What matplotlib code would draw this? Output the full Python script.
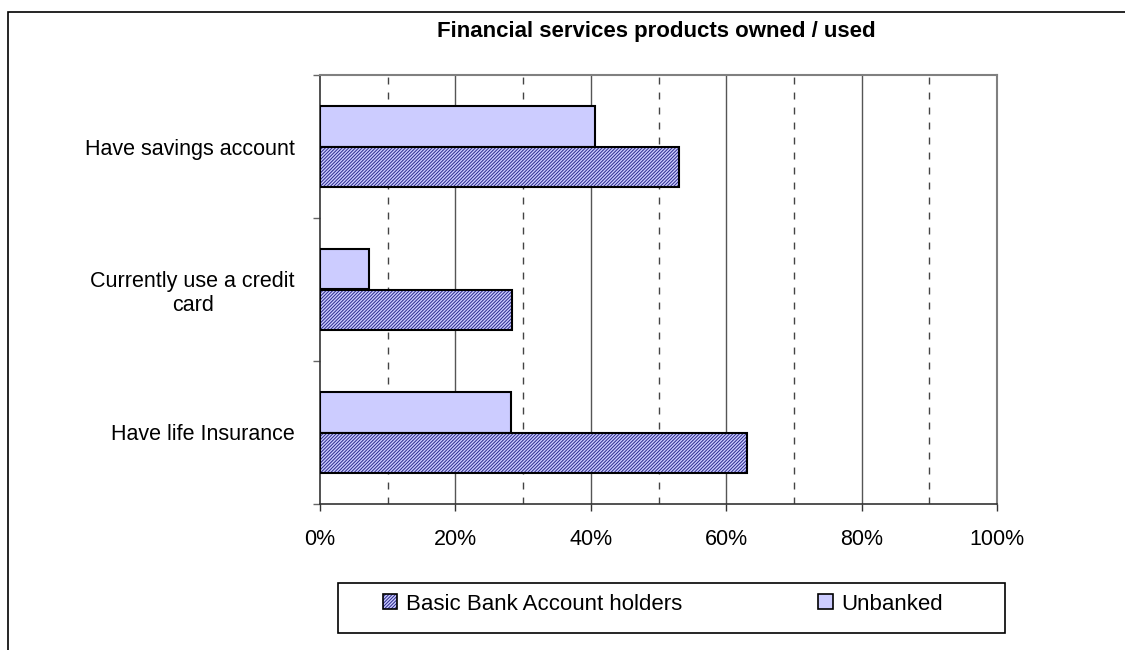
import matplotlib
matplotlib.use("Agg")
import matplotlib.pyplot as plt
from matplotlib.patches import Rectangle, Patch
import numpy as np

plt.rcParams['font.family'] = ['Liberation Sans', 'DejaVu Sans']
plt.rcParams['hatch.linewidth'] = 0.7

# ---- data ----
categories = ["Have savings account", "Currently use a credit\ncard", "Have life Insurance"]
series_names = ["Basic Bank Account holders", "Unbanked"]
basic_values = [53.0, 28.4, 63.1]
unbanked_values = [40.6, 7.2, 28.2]
x_ticks = [0, 20, 40, 60, 80, 100]
x_tick_labels = ["0%", "20%", "40%", "60%", "80%", "100%"]
title = "Financial services products owned / used"

W, H = 1125, 650
fig = plt.figure(figsize=(W / 100, H / 100), dpi=100)
fig.patch.set_facecolor('white')

# outer chart-area frame
fig.patches.append(Rectangle((8 / W, -0.05), 1.2, 1 - 12 / H + 0.05, transform=fig.transFigure,
                             fill=False, edgecolor='#000000', linewidth=1.2, zorder=0))

ax = fig.add_axes([320 / W, 1 - 504 / H, (997 - 320) / W, (504 - 75) / H])

fill_col = '#CCCCFF'
hatch_col = '#2B2B8C'
hatch_pat = '/' * 10
bar_h = 0.28
centers = np.arange(len(categories)) + 0.5

# unbanked (upper bar of each pair)
ax.barh(centers - bar_h / 2, unbanked_values, height=bar_h, color=fill_col,
        edgecolor='black', linewidth=1.5, zorder=3)
# basic bank account holders (lower bar, hatched)
ax.barh(centers + bar_h / 2, basic_values, height=bar_h, color=fill_col,
        edgecolor=hatch_col, linewidth=0, hatch=hatch_pat, zorder=3)
ax.barh(centers + bar_h / 2, basic_values, height=bar_h, fill=False,
        edgecolor='black', linewidth=1.5, zorder=4)

ax.set_xlim(0, 100)
ax.set_ylim(len(categories), 0)

# gridlines
for v in [20, 40, 60, 80]:
    ax.axvline(v, color='#555555', linewidth=1.0, zorder=1)
for v in [10, 30, 50, 70, 90]:
    ax.axvline(v, color='#444444', linewidth=1.0, linestyle=(0, (5, 5.8)), zorder=1)

ax.set_xticks(x_ticks)
ax.set_xticklabels(x_tick_labels, fontsize=15.5)
ax.tick_params(axis='x', direction='out', length=5, width=1, color='#333333', pad=13)

ax.set_yticks(centers)
ax.set_yticklabels(categories, fontsize=15.5, multialignment='center')
ax.tick_params(axis='y', which='major', length=0, pad=18)
ax.set_yticks(np.arange(len(categories) + 1), minor=True)
ax.tick_params(axis='y', which='minor', direction='out', length=5, width=1, color='#666666')

for s in ['top', 'right']:
    ax.spines[s].set_color('#808080')
    ax.spines[s].set_linewidth(1.5)
ax.spines['left'].set_color('#333333')
ax.spines['left'].set_linewidth(1.2)
ax.spines['bottom'].set_color('#333333')
ax.spines['bottom'].set_linewidth(1.2)

fig.text(656 / W, 1 - 37 / H, title, ha='center', va='baseline', fontsize=16, fontweight='bold')

# legend frame
fig.patches.append(Rectangle((338 / W, 1 - 633 / H), (1005 - 338) / W, (633 - 583) / H,
                             transform=fig.transFigure, fill=False, edgecolor='black',
                             linewidth=1.2, zorder=1))
handles = [Patch(facecolor=fill_col, edgecolor=hatch_col, hatch=hatch_pat, linewidth=0),
           Patch(facecolor=fill_col, edgecolor='black', linewidth=1.2)]
h0 = Patch(facecolor='none', edgecolor='black', linewidth=1.2)
leg = fig.legend([(handles[0], h0), handles[1]], series_names, loc='center left',
                 bbox_to_anchor=(383 / W, 1 - 604 / H), ncol=2, frameon=False,
                 fontsize=16, handlelength=0.65, handleheight=0.65, handletextpad=0.4,
                 columnspacing=6.1, borderpad=0, borderaxespad=0)

fig.savefig('out.png', dpi=100, facecolor='white')
